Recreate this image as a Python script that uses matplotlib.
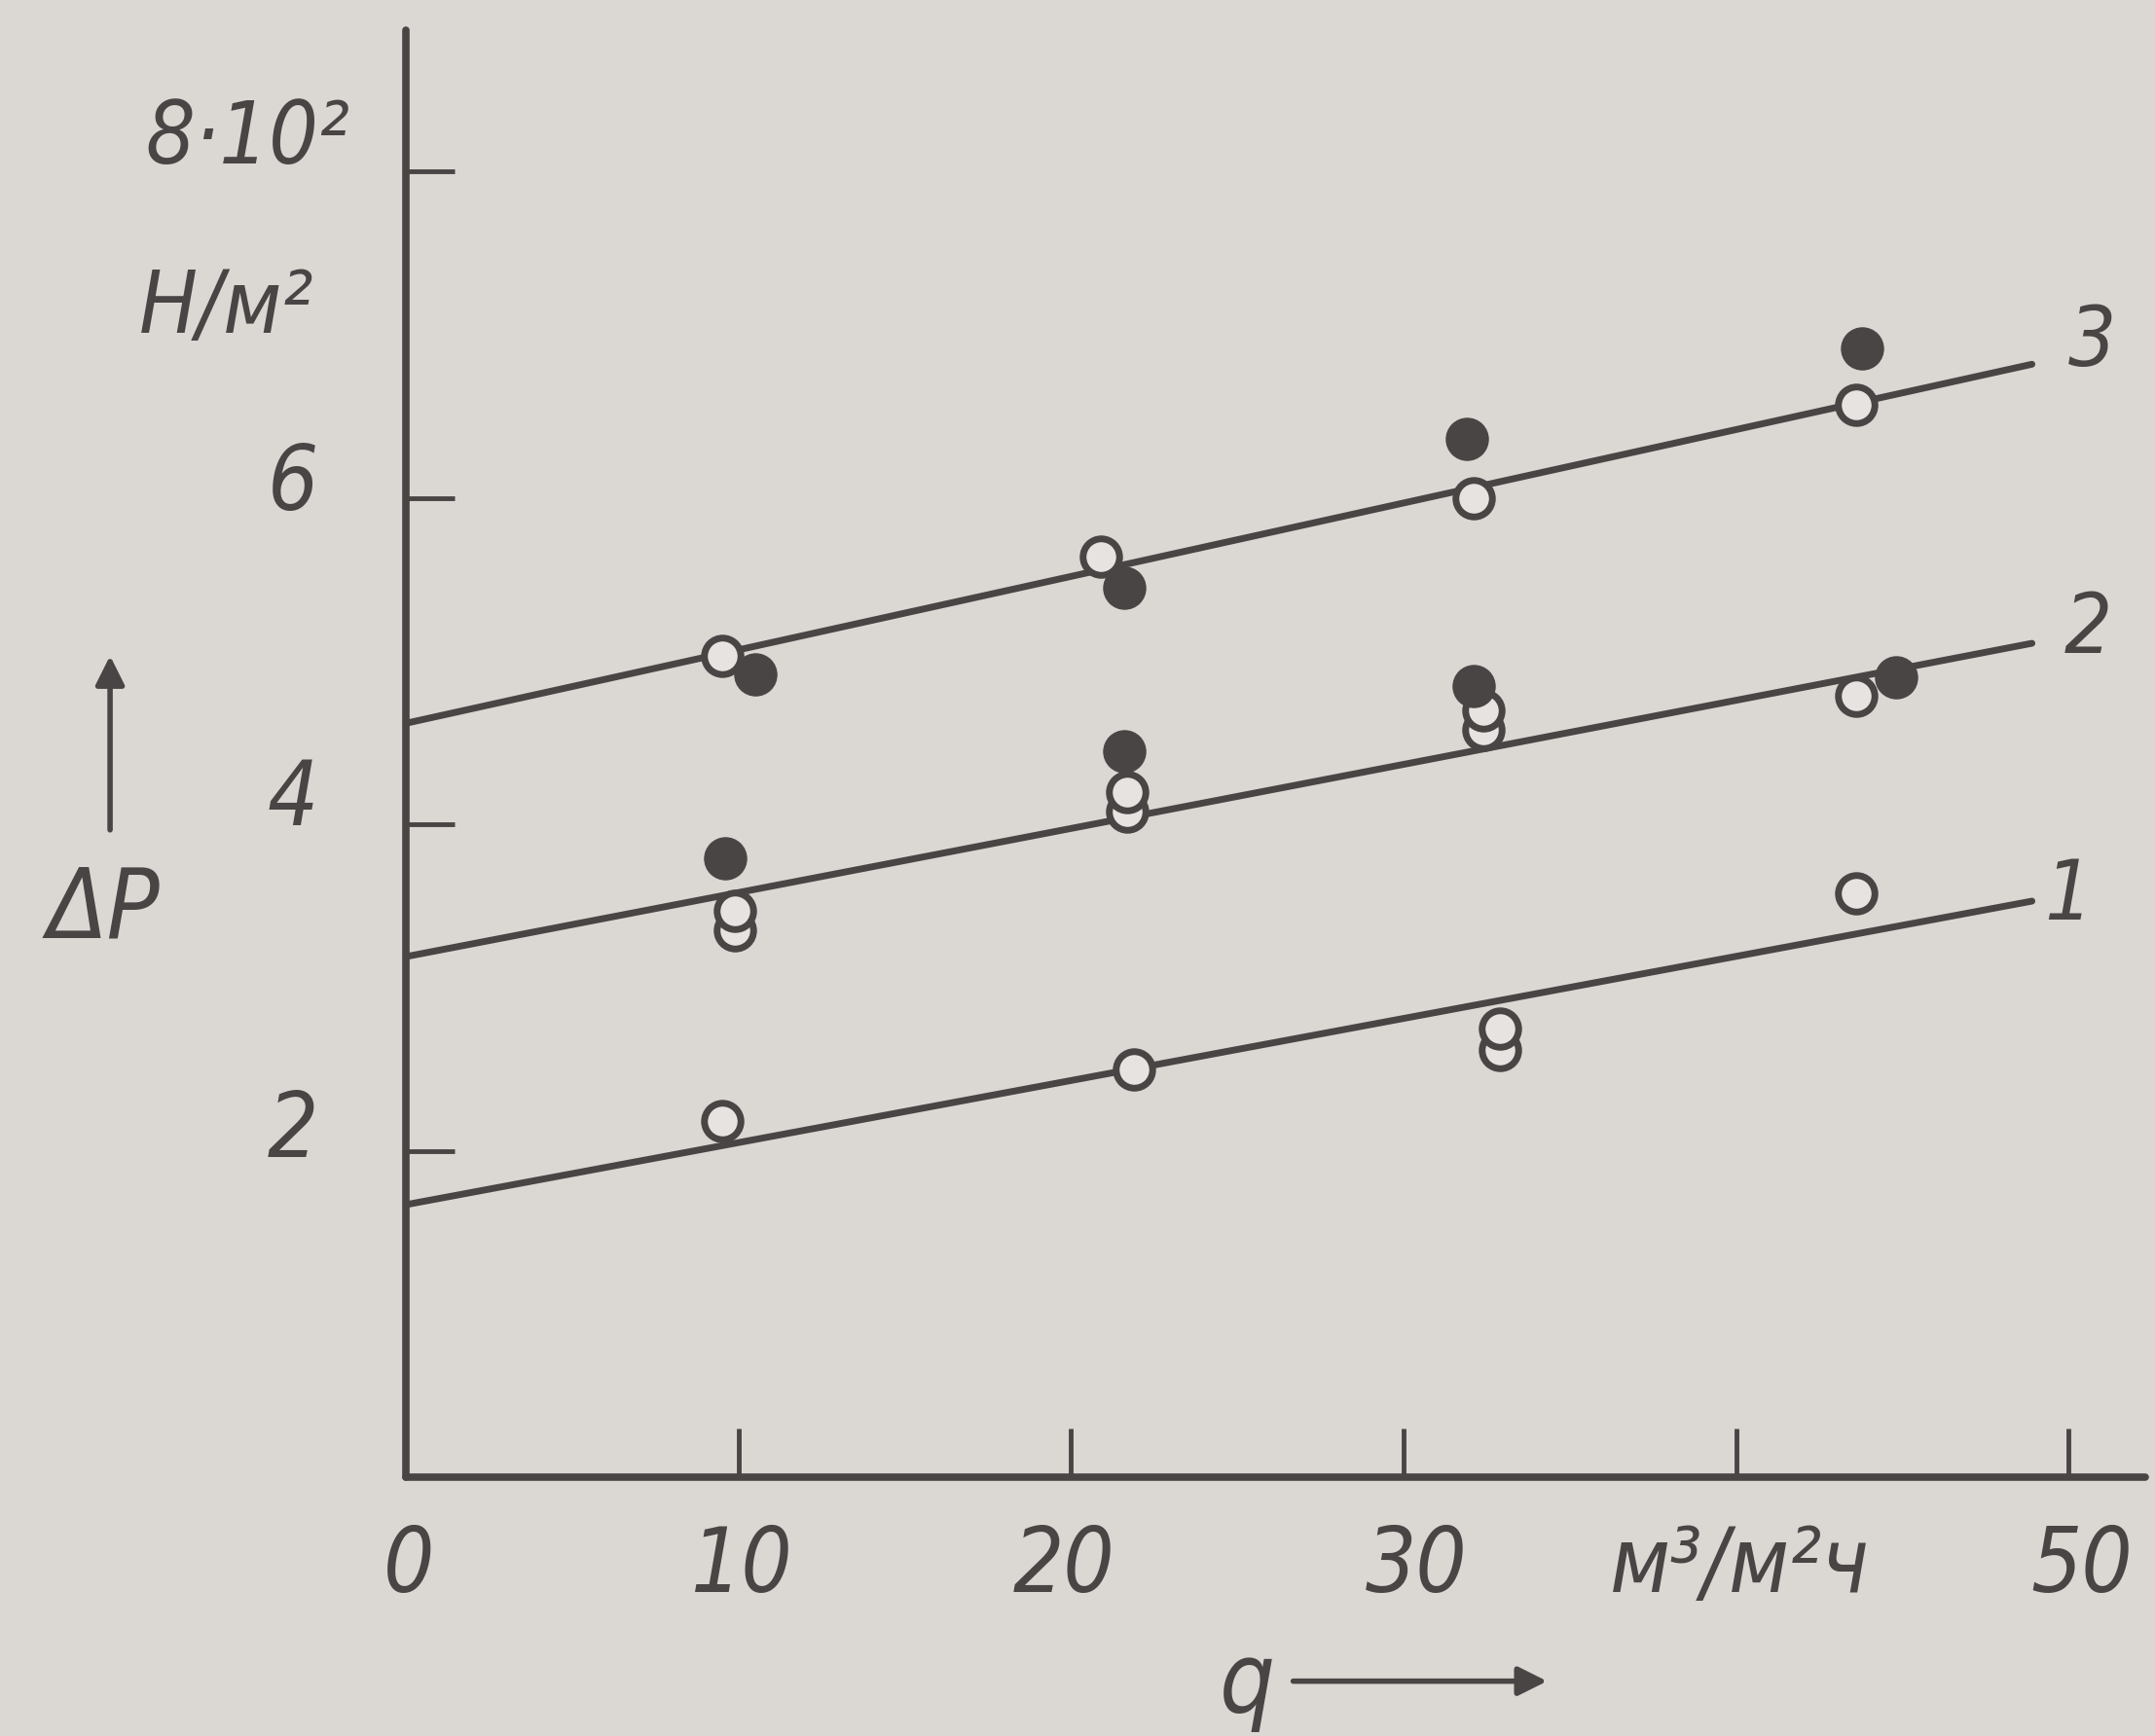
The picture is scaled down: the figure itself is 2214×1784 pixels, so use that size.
import matplotlib
matplotlib.use('Agg')
import matplotlib.pyplot as plt

# fitted lines: start / end of each straight line
line_x = [0, 48.9]
line1_y = [1.67, 3.53]
line2_y = [3.19, 5.11]
line3_y = [4.62, 6.82]

# measured points, open circles
open1_x = [9.5, 21.9, 32.9, 32.9, 43.6]
open1_y = [2.18, 2.50, 2.62, 2.75, 3.58]
open2_x = [9.9, 9.9, 21.7, 21.7, 32.4, 32.4, 43.6]
open2_y = [3.35, 3.47, 4.08, 4.20, 4.58, 4.70, 4.79]
open3_x = [9.5, 20.9, 32.1, 43.6]
open3_y = [5.03, 5.64, 6.00, 6.57]

# measured points, filled circles
fill2_x = [9.6, 21.6, 32.1, 44.8]
fill2_y = [3.79, 4.45, 4.85, 4.90]
fill3_x = [10.5, 21.6, 31.9, 43.8]
fill3_y = [4.92, 5.45, 6.36, 6.92]

x_ticks = [10, 20, 30, 40, 50]
x_labels = ['0', '10', '20', '30', 'м³/м²ч', '50']
x_label_pos = [0.1, 10.1, 19.8, 30.4, 40.1, 50.4]
y_ticks = [2, 4, 6, 8]
y_labels = ['2', '4', '6']

INK = '#4a4545'
PAPER = '#dbd7d3'


def draw() -> None:
    """Pressure drop vs. flow rate, three lines with measured points."""
    fig = plt.figure(figsize=(22.14, 17.84), dpi=100, facecolor=PAPER)
    ax = fig.add_axes([0, 0, 1, 1], facecolor=PAPER)
    ax.set_xlim(-12.21, 52.6)
    ax.set_ylim(-1.586, 9.052)

    for sp in ['top', 'right']:
        ax.spines[sp].set_visible(False)
    ax.spines['left'].set_position(('data', 0))
    ax.spines['bottom'].set_position(('data', 0))
    ax.spines['left'].set_bounds(0, 8.87)
    ax.spines['bottom'].set_bounds(0, 52.3)
    for sp in ['left', 'bottom']:
        ax.spines[sp].set_color(INK)
        ax.spines[sp].set_linewidth(5.5)
        ax.spines[sp].set_capstyle('round')

    ax.set_xticks(x_ticks)
    ax.set_yticks(y_ticks)
    ax.set_xticklabels([])
    ax.set_yticklabels([])
    ax.tick_params(axis='both', direction='in', length=36, width=3.5,
                   color=INK)

    font = dict(family='DejaVu Sans', stretch='condensed',
                style='italic', color=INK)

    for y in [line1_y, line2_y, line3_y]:
        ax.plot(line_x, y, color=INK, lw=5, solid_capstyle='round', zorder=2)

    for xs, ys in [(open1_x, open1_y), (open2_x, open2_y), (open3_x, open3_y)]:
        ax.plot(xs, ys, 'o', ms=27, mfc='#e6e3e0', mec=INK, mew=5,
                zorder=3)
    for xs, ys in [(fill2_x, fill2_y), (fill3_x, fill3_y)]:
        ax.plot(xs, ys, 'o', ms=31, mfc=INK, mec=INK, zorder=4)

    # curve numbers
    ax.text(50.7, 6.95, '3', fontsize=62, ha='center', va='center', **font)
    ax.text(50.6, 5.19, '2', fontsize=62, ha='center', va='center', **font)
    ax.text(50.0, 3.56, '1', fontsize=62, ha='center', va='center', **font)

    # tick labels
    for lab, xp in zip(x_labels, x_label_pos):
        ax.text(xp, -0.55, lab, fontsize=66, ha='center', va='center', **font)
    for lab, yp in zip(y_labels, [2.12, 4.15, 6.08]):
        ax.text(-3.4, yp, lab, fontsize=66, ha='center', va='center', **font)
    ax.text(-4.75, 8.2, '8·10²', fontsize=64, ha='center', va='center', **font)
    ax.text(-5.4, 7.16, 'Н/м²', fontsize=64, ha='center', va='center', **font)

    # axis names with arrows
    ax.text(-9.1, 3.47, 'ΔP', fontsize=72, ha='center', va='center', **font)
    ax.annotate('', xy=(-8.9, 5.05), xytext=(-8.9, 3.95),
                arrowprops=dict(arrowstyle='-|>', color=INK, lw=4,
                                mutation_scale=45))
    ax.text(25.3, -1.27, 'q', fontsize=72, ha='center', va='center', **font)
    ax.annotate('', xy=(34.4, -1.25), xytext=(26.6, -1.25),
                arrowprops=dict(arrowstyle='-|>', color=INK, lw=4,
                                mutation_scale=45))

    fig.savefig('out.png', dpi=100, facecolor=PAPER)


def main():
    draw()


if __name__ == '__main__':
    main()
